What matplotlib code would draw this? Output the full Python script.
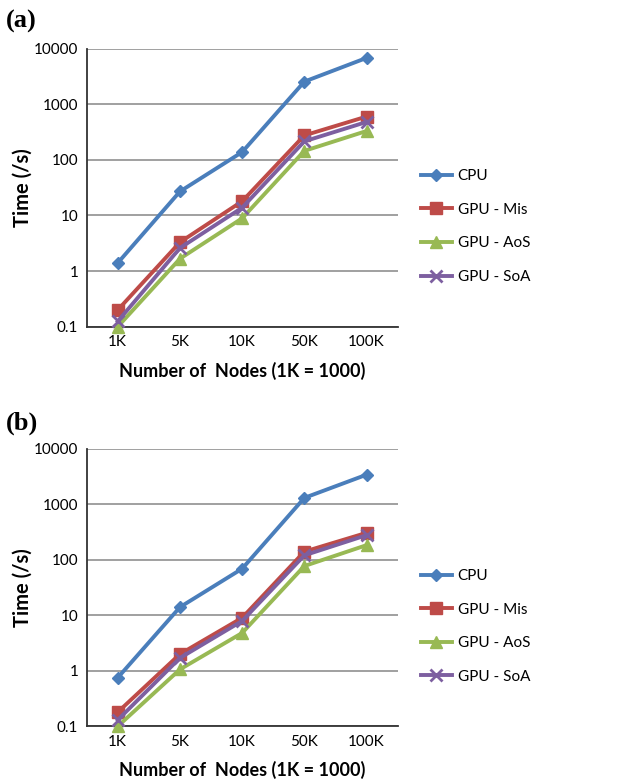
import matplotlib
matplotlib.use("Agg")
import matplotlib.pyplot as plt
import numpy as np

categories = ["1K", "5K", "10K", "50K", "100K"]
series_names = ["CPU", "GPU - Mis", "GPU - AoS", "GPU - SoA"]

a_cpu = [1.4, 27, 138, 2550, 6800]
a_mis = [0.2, 3.3, 18, 275, 600]
a_aos = [0.1, 1.67, 8.9, 145, 330]
a_soa = [0.125, 2.6, 13.8, 215, 480]

b_cpu = [0.75, 14, 69, 1300, 3400]
b_mis = [0.18, 2.0, 9.0, 140, 305]
b_aos = [0.1, 1.06, 4.8, 77, 183]
b_soa = [0.13, 1.7, 7.9, 120, 277]

yticks = [0.1, 1, 10, 100, 1000, 10000]
ytick_labels = ["0.1", "1", "10", "100", "1000", "10000"]

colors = ["#4A7EBB", "#BE4B48", "#98B954", "#7D5FA0"]
markers = ["D", "s", "^", "x"]
msizes = [6.5, 8.5, 8.5, 8]

plt.rcParams['font.family'] = ['Lato', 'DejaVu Sans']

fig = plt.figure(figsize=(6.34, 7.84), dpi=100)

def panel(rect, data, tag, tag_y, leg_y):
    ax = fig.add_axes(rect)
    x = np.arange(len(categories))
    for vals, name, c, m, ms in zip(data, series_names, colors, markers, msizes):
        ax.plot(x, vals, color=c, lw=2.8, marker=m, ms=ms, mew=2 if m == "x" else 1,
                mec=c, mfc=c, label=name, clip_on=False, zorder=3)
    ax.set_yscale("log")
    ax.set_ylim(0.1, 10000)
    ax.set_xlim(-0.5, len(categories) - 0.5)
    ax.set_yticks(yticks)
    ax.set_yticklabels(ytick_labels)
    ax.minorticks_off()
    ax.set_xticks(x)
    ax.set_xticklabels(categories)
    ax.tick_params(axis="both", length=0, labelsize=11, pad=6)
    ax.yaxis.grid(True, color="#999999", lw=1.3)
    ax.set_axisbelow(True)
    for s in ["top", "right"]:
        ax.spines[s].set_visible(False)
    for s in ["left", "bottom"]:
        ax.spines[s].set_color("#333333")
        ax.spines[s].set_linewidth(1.3)
    ax.set_ylabel("Time (/s)", fontsize=14.5, fontweight="bold", labelpad=1)
    ax.set_xlabel("Number of  Nodes (1K = 1000)", fontsize=13, fontweight="bold", labelpad=9)
    fig.text(0.010, tag_y, tag, fontsize=19, fontweight="bold", family="Liberation Serif", va="center")
    ax.legend(loc="center left", bbox_to_anchor=(0.664, leg_y), bbox_transform=fig.transFigure,
              frameon=False, fontsize=11, handlelength=2.0, labelspacing=1.28, handletextpad=0.4,
              borderpad=0, borderaxespad=0)
    return ax

panel([0.1367, 0.5833, 0.4905, 0.3547],
      [a_cpu, a_mis, a_aos, a_soa], "(a)", 0.972, 0.711)
panel([0.1367, 0.0736, 0.4905, 0.3541],
      [b_cpu, b_mis, b_aos, b_soa], "(b)", 0.4596, 0.2009)

fig.savefig("out.png", dpi=100)
